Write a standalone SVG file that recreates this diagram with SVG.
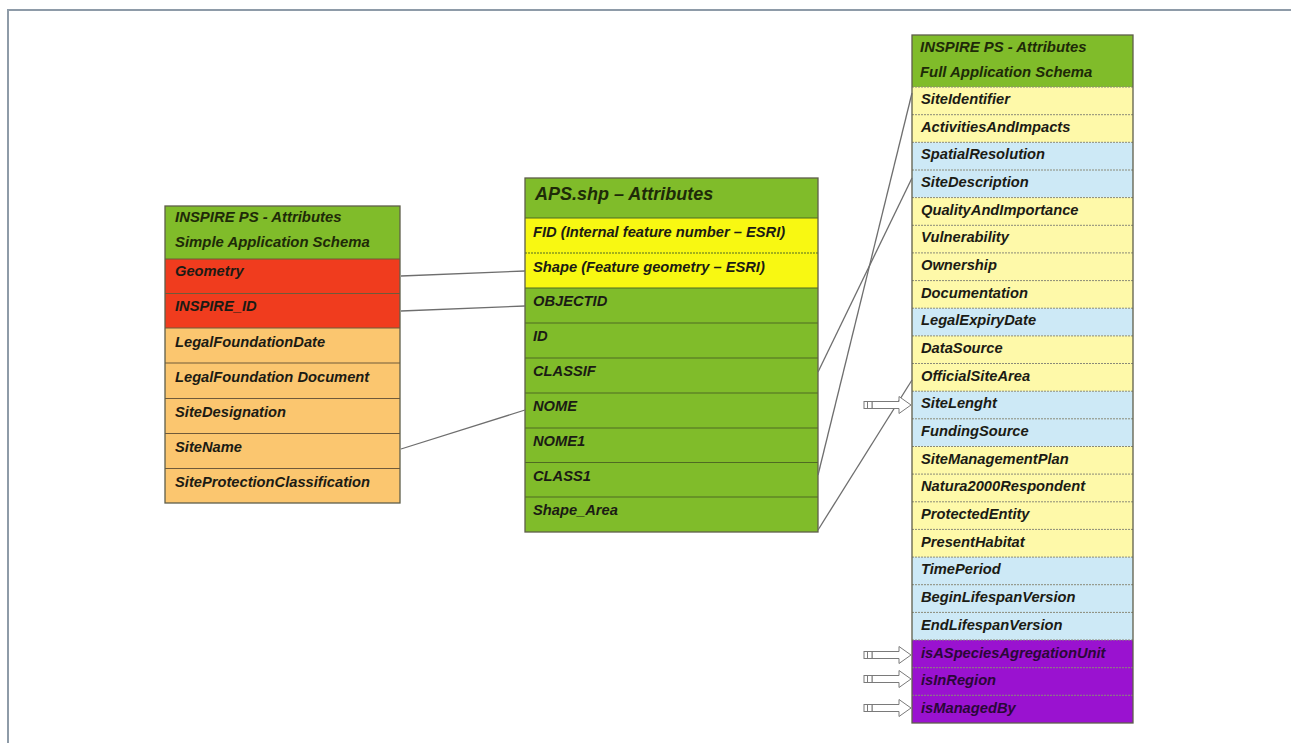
<svg xmlns="http://www.w3.org/2000/svg" width="1291" height="743" viewBox="0 0 1291 743">
<style>
  text { font-family: "Liberation Sans", Arial, sans-serif; font-weight: bold; font-style: italic; font-size: 14.7px; fill: #1b1b14; }
  .hdr { font-size: 14.9px; fill: #1e2a08; }
  .big { font-size: 18px; }
  .pt { fill: #2a0838; }
  .g { fill: #80bc2a; }
  .red { fill: #f03c1e; }
  .peach { fill: #fbc66f; }
  .yel { fill: #f8f812; }
  .ly { fill: #fef9a9; }
  .lb { fill: #cde9f6; }
  .pur { fill: #9a12d0; }
  .sepL { stroke: #6f5a3a; stroke-width: 1; }
  .sepM { stroke: #4f6b22; stroke-width: 1; }
  .sepR { stroke: #8a8a78; stroke-width: 1; stroke-dasharray: 2 1; }
  .outer { fill: none; stroke: #5e5e4a; stroke-width: 1.3; }
  .conn { stroke: #6e6e6e; stroke-width: 1.3; fill: none; }
  .frame { stroke: #8e9ba8; stroke-width: 2; fill: none; }
</style>
<defs>
  <g id="blockArrow">
    <path d="M8,-3.5 L35,-3.5 L35,-8.5 L47,0 L35,8.5 L35,3.5 L8,3.5 Z" fill="#ffffff" stroke="#7a7a7a" stroke-width="1"/>
    <rect x="0" y="-3.5" width="8" height="7" fill="#ffffff" stroke="#7a7a7a" stroke-width="1"/>
    <line x1="3.5" y1="-3.5" x2="3.5" y2="3.5" stroke="#7a7a7a" stroke-width="1"/>
  </g>
</defs>

<path class="frame" d="M8,743 L8,10 L1291,10"/>

<g id="simple-schema">
  <rect class="g" x="165" y="206" width="235" height="53"/>
  <rect class="red" x="165" y="259" width="235" height="69"/>
  <rect class="peach" x="165" y="328" width="235" height="175"/>
  <line class="sepL" x1="165" y1="259" x2="400" y2="259"/>
  <line class="sepL" x1="165" y1="293.5" x2="400" y2="293.5"/>
  <line class="sepL" x1="165" y1="328" x2="400" y2="328"/>
  <line class="sepL" x1="165" y1="363" x2="400" y2="363"/>
  <line class="sepL" x1="165" y1="398.5" x2="400" y2="398.5"/>
  <line class="sepL" x1="165" y1="433.5" x2="400" y2="433.5"/>
  <line class="sepL" x1="165" y1="468.5" x2="400" y2="468.5"/>
  <rect class="outer" x="165" y="206" width="235" height="297"/>
  <text class="hdr" x="175" y="222">INSPIRE PS - Attributes</text>
  <text class="hdr" x="175" y="247">Simple Application Schema</text>
  <text x="175" y="276">Geometry</text>
  <text x="175" y="311">INSPIRE_ID</text>
  <text x="175" y="347">LegalFoundationDate</text>
  <text x="175" y="382">LegalFoundation Document</text>
  <text x="175" y="417">SiteDesignation</text>
  <text x="175" y="452">SiteName</text>
  <text x="175" y="487">SiteProtectionClassification</text>
</g>

<g id="aps-shp">
  <rect class="g" x="525" y="178" width="293" height="354"/>
  <rect class="yel" x="525" y="218" width="293" height="70"/>
  <line class="sepM" x1="525" y1="218" x2="818" y2="218"/>
  <line class="sepM" x1="525" y1="253" x2="818" y2="253" stroke-dasharray="2 1"/>
  <line class="sepM" x1="525" y1="288" x2="818" y2="288"/>
  <line class="sepM" x1="525" y1="323" x2="818" y2="323"/>
  <line class="sepM" x1="525" y1="358" x2="818" y2="358"/>
  <line class="sepM" x1="525" y1="393" x2="818" y2="393"/>
  <line class="sepM" x1="525" y1="428" x2="818" y2="428"/>
  <line class="sepM" x1="525" y1="462.5" x2="818" y2="462.5"/>
  <line class="sepM" x1="525" y1="497" x2="818" y2="497"/>
  <rect class="outer" x="525" y="178" width="293" height="354"/>
  <text class="hdr big" x="535" y="200">APS.shp – Attributes</text>
  <text x="533" y="237">FID (Internal feature number – ESRI)</text>
  <text x="533" y="272">Shape (Feature geometry – ESRI)</text>
  <text x="533" y="306">OBJECTID</text>
  <text x="533" y="341">ID</text>
  <text x="533" y="376">CLASSIF</text>
  <text x="533" y="411">NOME</text>
  <text x="533" y="446">NOME1</text>
  <text x="533" y="481">CLASS1</text>
  <text x="533" y="515">Shape_Area</text>
</g>

<g id="full-schema">
  <rect class="g" x="912" y="35" width="221" height="52"/>
  <rect class="ly" x="912" y="87" width="221" height="55.3"/>
  <rect class="lb" x="912" y="142.3" width="221" height="55.3"/>
  <rect class="ly" x="912" y="197.6" width="221" height="110.6"/>
  <rect class="lb" x="912" y="308.2" width="221" height="27.7"/>
  <rect class="ly" x="912" y="335.9" width="221" height="55.3"/>
  <rect class="lb" x="912" y="391.2" width="221" height="55.3"/>
  <rect class="ly" x="912" y="446.5" width="221" height="110.6"/>
  <rect class="lb" x="912" y="557.1" width="221" height="82.9"/>
  <rect class="pur" x="912" y="640" width="221" height="83"/>
  <g>
    <line class="sepR" x1="912" y1="87" x2="1133" y2="87"/>
    <line class="sepR" x1="912" y1="114.7" x2="1133" y2="114.7"/>
    <line class="sepR" x1="912" y1="142.3" x2="1133" y2="142.3"/>
    <line class="sepR" x1="912" y1="170" x2="1133" y2="170"/>
    <line class="sepR" x1="912" y1="197.6" x2="1133" y2="197.6"/>
    <line class="sepR" x1="912" y1="225.3" x2="1133" y2="225.3"/>
    <line class="sepR" x1="912" y1="252.9" x2="1133" y2="252.9"/>
    <line class="sepR" x1="912" y1="280.6" x2="1133" y2="280.6"/>
    <line class="sepR" x1="912" y1="308.2" x2="1133" y2="308.2"/>
    <line class="sepR" x1="912" y1="335.9" x2="1133" y2="335.9"/>
    <line class="sepR" x1="912" y1="363.5" x2="1133" y2="363.5"/>
    <line class="sepR" x1="912" y1="391.2" x2="1133" y2="391.2"/>
    <line class="sepR" x1="912" y1="418.8" x2="1133" y2="418.8"/>
    <line class="sepR" x1="912" y1="446.5" x2="1133" y2="446.5"/>
    <line class="sepR" x1="912" y1="474.1" x2="1133" y2="474.1"/>
    <line class="sepR" x1="912" y1="501.8" x2="1133" y2="501.8"/>
    <line class="sepR" x1="912" y1="529.4" x2="1133" y2="529.4"/>
    <line class="sepR" x1="912" y1="557.1" x2="1133" y2="557.1"/>
    <line class="sepR" x1="912" y1="584.7" x2="1133" y2="584.7"/>
    <line class="sepR" x1="912" y1="612.4" x2="1133" y2="612.4"/>
    <line class="sepR" x1="912" y1="640" x2="1133" y2="640"/>
    <line class="sepR" x1="912" y1="667.7" x2="1133" y2="667.7" stroke="#5a1580"/>
    <line class="sepR" x1="912" y1="695.3" x2="1133" y2="695.3" stroke="#5a1580"/>
  </g>
  <rect class="outer" x="912" y="35" width="221" height="688"/>
  <text class="hdr" x="920" y="52">INSPIRE PS - Attributes</text>
  <text class="hdr" x="920" y="77">Full Application Schema</text>
  <text x="921" y="104">SiteIdentifier</text>
  <text x="921" y="132">ActivitiesAndImpacts</text>
  <text x="921" y="159">SpatialResolution</text>
  <text x="921" y="187">SiteDescription</text>
  <text x="921" y="215">QualityAndImportance</text>
  <text x="921" y="242">Vulnerability</text>
  <text x="921" y="270">Ownership</text>
  <text x="921" y="298">Documentation</text>
  <text x="921" y="325">LegalExpiryDate</text>
  <text x="921" y="353">DataSource</text>
  <text x="921" y="381">OfficialSiteArea</text>
  <text x="921" y="408">SiteLenght</text>
  <text x="921" y="436">FundingSource</text>
  <text x="921" y="464">SiteManagementPlan</text>
  <text x="921" y="491">Natura2000Respondent</text>
  <text x="921" y="519">ProtectedEntity</text>
  <text x="921" y="547">PresentHabitat</text>
  <text x="921" y="574">TimePeriod</text>
  <text x="921" y="602">BeginLifespanVersion</text>
  <text x="921" y="630">EndLifespanVersion</text>
  <text class="pt" x="921" y="658">isASpeciesAgregationUnit</text>
  <text class="pt" x="921" y="685">isInRegion</text>
  <text class="pt" x="921" y="713">isManagedBy</text>
</g>

<g id="connectors">
  <line class="conn" x1="401" y1="276" x2="525" y2="271"/>
  <line class="conn" x1="401" y1="311" x2="525" y2="306"/>
  <line class="conn" x1="401" y1="449" x2="525" y2="410"/>
  <line class="conn" x1="818" y1="372" x2="912" y2="178"/>
  <line class="conn" x1="818" y1="475" x2="912" y2="93"/>
  <line class="conn" x1="818" y1="530" x2="912" y2="380"/>
  <use href="#blockArrow" transform="translate(864,405)"/>
  <use href="#blockArrow" transform="translate(864,655)"/>
  <use href="#blockArrow" transform="translate(864,679)"/>
  <use href="#blockArrow" transform="translate(864,708)"/>
</g>
</svg>
